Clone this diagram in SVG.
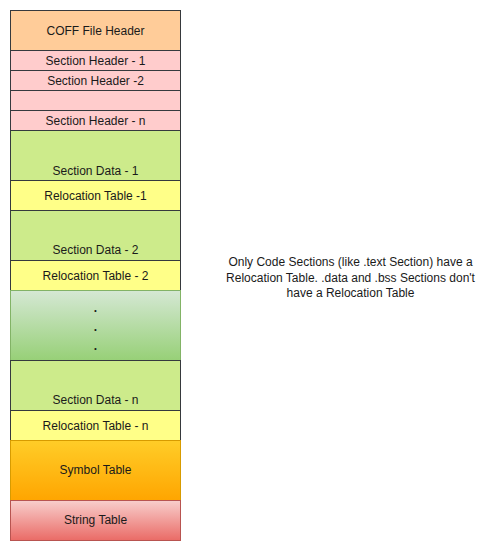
<svg xmlns="http://www.w3.org/2000/svg" width="491" height="551" viewBox="0 0 491 551">
  <style>
    text { font-family: "Liberation Sans", Arial, Helvetica, sans-serif; font-size: 12px; fill: #1a1a1a; text-anchor: middle; }
    .box { stroke: #36393d; stroke-width: 1; }
    .hdr { fill: #ffcc99; }
    .sech { fill: #ffcccc; }
    .data { fill: #cdeb8b; }
    .reloc { fill: #ffff88; }
  </style>
  <defs>
    <linearGradient id="gGreen" x1="0" y1="0" x2="0" y2="1">
      <stop offset="0" stop-color="#d5e8d4"/>
      <stop offset="1" stop-color="#97d077"/>
    </linearGradient>
    <linearGradient id="gOrange" x1="0" y1="0" x2="0" y2="1">
      <stop offset="0" stop-color="#ffcd28"/>
      <stop offset="1" stop-color="#ffa500"/>
    </linearGradient>
    <linearGradient id="gRed" x1="0" y1="0" x2="0" y2="1">
      <stop offset="0" stop-color="#f8cecc"/>
      <stop offset="1" stop-color="#ea6b66"/>
    </linearGradient>
  </defs>

  <g id="coff-header">
    <rect class="box hdr" x="10.5" y="10.5" width="170" height="40"/>
    <text x="95.5" y="35">COFF File Header</text>
  </g>
  <g id="section-header-1">
    <rect class="box sech" x="10.5" y="50.5" width="170" height="20"/>
    <text x="95.5" y="65">Section Header - 1</text>
  </g>
  <g id="section-header-2">
    <rect class="box sech" x="10.5" y="70.5" width="170" height="20"/>
    <text x="95.5" y="85">Section Header -2</text>
  </g>
  <g id="section-header-blank">
    <rect class="box sech" x="10.5" y="90.5" width="170" height="20"/>
  </g>
  <g id="section-header-n">
    <rect class="box sech" x="10.5" y="110.5" width="170" height="20"/>
    <text x="95.5" y="125">Section Header - n</text>
  </g>
  <g id="section-data-1">
    <rect class="box data" x="10.5" y="130.5" width="170" height="50"/>
    <text x="95.5" y="175">Section Data - 1</text>
  </g>
  <g id="relocation-table-1">
    <rect class="box reloc" x="10.5" y="180.5" width="170" height="30"/>
    <text x="95.5" y="200">Relocation Table -1</text>
  </g>
  <g id="section-data-2">
    <rect class="box data" x="10.5" y="210.5" width="170" height="50"/>
    <text x="95.5" y="254">Section Data - 2</text>
  </g>
  <g id="relocation-table-2">
    <rect class="box reloc" x="10.5" y="260.5" width="170" height="30"/>
    <text x="95.5" y="280">Relocation Table - 2</text>
  </g>
  <g id="ellipsis">
    <rect x="10.5" y="290.5" width="170" height="70" fill="url(#gGreen)" stroke="#82b366"/>
    <text x="95.5" y="312" font-weight="bold">.</text>
    <text x="95.5" y="331" font-weight="bold">.</text>
    <text x="95.5" y="350" font-weight="bold">.</text>
  </g>
  <g id="section-data-n">
    <rect class="box data" x="10.5" y="360.5" width="170" height="50"/>
    <text x="95.5" y="404">Section Data - n</text>
  </g>
  <g id="relocation-table-n">
    <rect class="box reloc" x="10.5" y="410.5" width="170" height="30"/>
    <text x="95.5" y="430">Relocation Table - n</text>
  </g>
  <g id="symbol-table">
    <rect x="10.5" y="440.5" width="170" height="60" fill="url(#gOrange)" stroke="#d79b00"/>
    <text x="95.5" y="474">Symbol Table</text>
  </g>
  <g id="string-table">
    <rect x="10.5" y="500.5" width="170" height="40" fill="url(#gRed)" stroke="#b85450"/>
    <text x="95.5" y="524">String Table</text>
  </g>

  <g id="note">
    <text x="350.5" y="266">Only Code Sections (like .text Section) have a</text>
    <text x="350.5" y="282">Relocation Table. .data and .bss Sections don't</text>
    <text x="350.5" y="297">have a Relocation Table</text>
  </g>

  <g id="connectors"/>
</svg>
